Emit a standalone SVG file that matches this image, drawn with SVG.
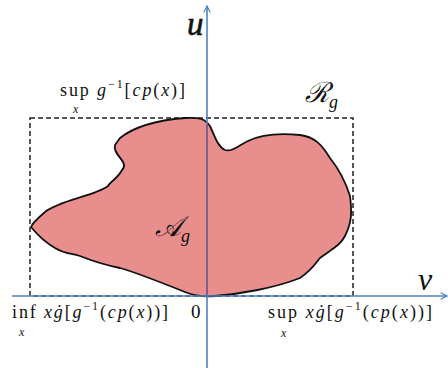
<svg xmlns="http://www.w3.org/2000/svg" width="448" height="368" viewBox="0 0 448 368">
<style>
.ax{stroke:#4f81bd;stroke-width:1.6;fill:none}
.t{font-family:"Liberation Serif","DejaVu Serif",serif;fill:#111}
.i{font-style:italic}
</style>
<defs>
<marker id="ah" viewBox="0 0 10 10" refX="9" refY="5" markerWidth="8" markerHeight="8" orient="auto" markerUnits="userSpaceOnUse">
<path d="M1,1 L9,5 L1,9" fill="none" stroke="#4f81bd" stroke-width="1.4"/>
</marker>
</defs>
<rect width="448" height="368" fill="#fff"/>
<g id="region-R">
<rect x="30" y="118" width="323" height="178" fill="none" stroke="#222" stroke-width="1.5" stroke-dasharray="5,3"/>
</g>
<g id="region-A">
<path d="M115,145 C112,155 130,162 122,170 C118,178 110,182 108,186 C95,196 60,200 45,212 C38,218 32,224 31,227 C40,238 48,244 55,248 C65,254 70,253 80,256 C95,262 110,266 120,268 C135,272 160,282 185,292 C195,296 205,297 215,296 C240,294 275,288 300,278 C312,270 315,264 320,258 C330,250 340,246 345,236 C352,222 352,212 350,196 C345,180 338,168 330,158 C322,145 315,137 300,135 C280,133 260,135 248,141 C238,146 232,152 225,150 C217,146 214,134 210,126 C205,119 200,117 185,118 C160,120 135,126 120,138 Z" fill="#e88e8c" stroke="#111" stroke-width="1.8" stroke-linejoin="round"/>
</g>
<g id="connectors">
<line class="ax" x1="207" y1="368" x2="207" y2="6" marker-end="url(#ah)"/>
<line x1="207" y1="124" x2="207" y2="295" stroke="#8a5478" stroke-width="1.6"/>
<line class="ax" x1="12" y1="296" x2="447" y2="296" marker-end="url(#ah)"/>
</g>
<g id="labels">
<text class="t i" x="187" y="35" font-size="33" stroke="#111" stroke-width="0.6">u</text>
<text class="t i" x="418" y="290" font-size="32">v</text>
<text class="t i" x="305" y="102" font-size="28">ℛ<tspan font-size="18" dy="6">g</tspan></text>
<text class="t i" x="155" y="236" font-size="28">𝒜<tspan font-size="18" dy="6">g</tspan></text>
<text class="t" x="60" y="96" font-size="18" textLength="125" lengthAdjust="spacing">sup <tspan class="i">g</tspan><tspan font-size="12" dy="-8">−1</tspan><tspan dy="8">[</tspan><tspan class="i">cp</tspan>(<tspan class="i">x</tspan>)]</text>
<text class="t i" x="73" y="113" font-size="12">x</text>
<text class="t" x="12" y="318" font-size="18" textLength="156" lengthAdjust="spacing">inf <tspan class="i">xġ</tspan>[<tspan class="i">g</tspan><tspan font-size="12" dy="-8">−1</tspan><tspan dy="8">(</tspan><tspan class="i">cp</tspan>(<tspan class="i">x</tspan>))]</text>
<text class="t i" x="19" y="336" font-size="12">x</text>
<text class="t" x="191" y="318" font-size="19">0</text>
<text class="t" x="268" y="318" font-size="18" textLength="164" lengthAdjust="spacing">sup <tspan class="i">xġ</tspan>[<tspan class="i">g</tspan><tspan font-size="12" dy="-8">−1</tspan><tspan dy="8">(</tspan><tspan class="i">cp</tspan>(<tspan class="i">x</tspan>))]</text>
<text class="t i" x="281" y="337" font-size="12">x</text>
</g>
</svg>
